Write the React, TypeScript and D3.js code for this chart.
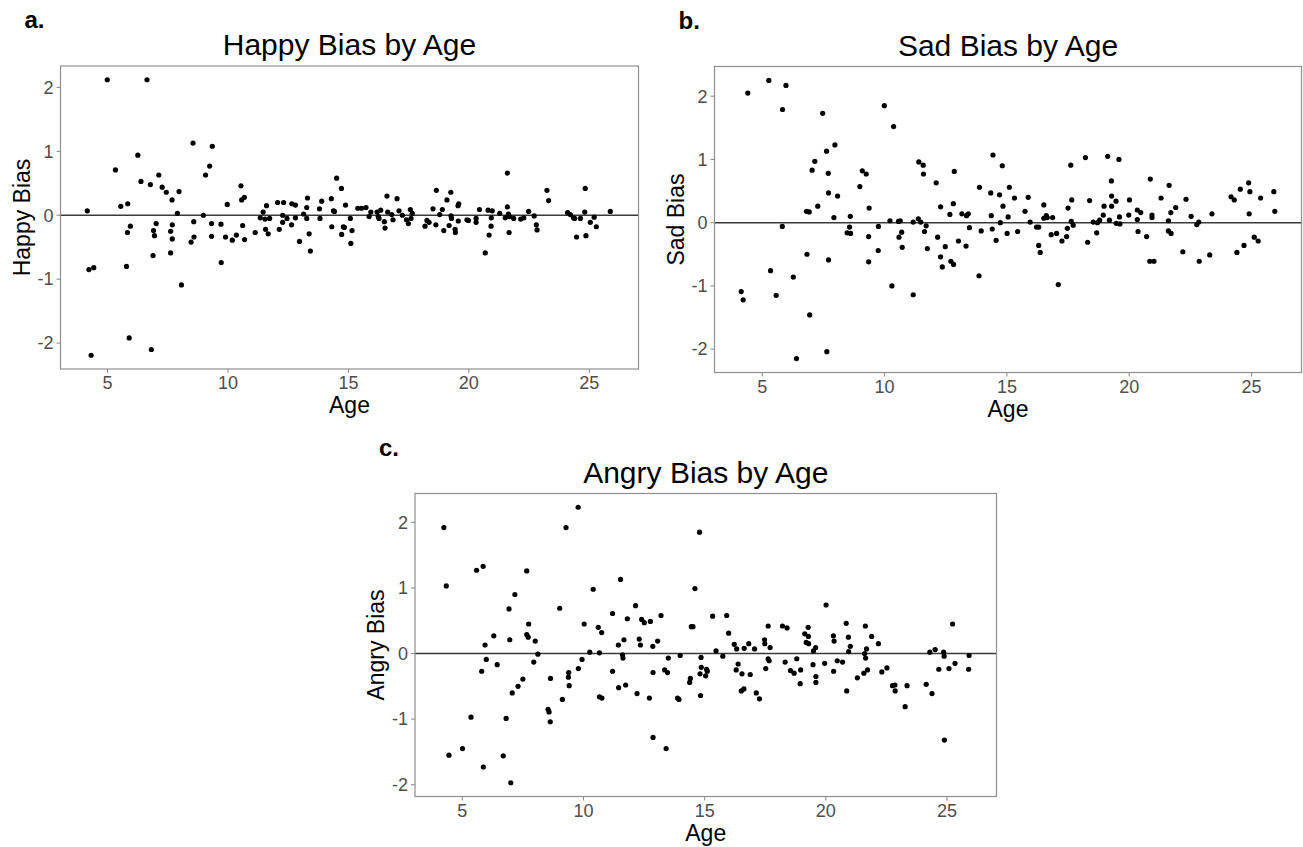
import React from "react";
import * as d3 from "d3";

// values
const happyAge = [
  4.16, 4.23, 4.43, 4.32, 4.99, 5.33, 5.55, 5.84, 5.83, 5.95, 5.79, 5.9, 6.26, 6.39, 6.64, 6.78, 6.82, 6.89, 6.91, 6.95,
  7.02, 7.13, 7.27, 7.44, 7.62, 7.62, 7.68, 7.69, 7.69, 7.9, 7.97, 8.07, 8.47, 8.55, 8.58, 8.59, 8.98, 9.07, 9.24, 9.35,
  9.32, 9.32, 9.71, 9.72, 9.9, 9.97, 10.18, 10.35, 10.54, 10.57, 10.68, 10.61, 10.69, 11.13, 11.34, 11.46, 11.54, 11.6,
  11.56, 11.67, 11.73, 12.06, 12.13, 12.27, 12.27, 12.31, 12.45, 12.65, 12.64, 12.8, 12.8, 12.97, 13.14, 13.27, 13.27,
  13.3, 13.37, 13.42, 13.8, 13.82, 13.89, 14.29, 14.31, 14.38, 14.42, 14.51, 14.71, 14.72, 14.79, 14.83, 14.88, 15.08,
  15.1, 15.15, 15.39, 15.55, 15.73, 15.86, 15.93, 16.19, 16.24, 16.27, 16.34, 16.49, 16.52, 16.6, 16.63, 16.8, 16.85,
  17.02, 17.1, 17.24, 17.41, 17.49, 17.57, 17.6, 17.65, 18.18, 18.26, 18.35, 18.51, 18.63, 18.65, 18.79, 18.9, 18.96,
  19.09, 19.18, 19.25, 19.26, 19.28, 19.43, 19.44, 19.55, 19.58, 19.56, 19.92, 19.98, 20.3, 20.3, 20.44, 20.68, 20.8,
  20.84, 20.92, 20.93, 20.97, 21.28, 21.51, 21.6, 21.6, 21.64, 21.67, 21.69, 21.86, 22.15, 22.28, 22.48, 22.71, 22.8,
  22.83, 23.24, 23.31, 24.1, 24.21, 24.34, 24.39, 24.47, 24.63, 24.81, 24.83, 24.86, 25.04, 25.2, 25.29, 25.87,
];
const happyBias = [
  0.07, -0.85, -0.82, -2.19, 2.12, 0.71, 0.14, 0.18, -0.27, -0.17, -0.8, -1.92, 0.94, 0.53, 2.12, 0.48, -2.1, -0.63, -0.24,
  -0.32, -0.13, 0.63, 0.44, 0.36, -0.25, -0.59, 0.24, -0.15, -0.37, 0.03, 0.37, -1.09, -0.42, 1.13, -0.1, -0.34, 0.0, 0.63,
  0.77, 1.08, -0.13, -0.33, -0.14, -0.74, -0.34, 0.17, -0.39, -0.31, 0.46, 0.24, 0.28, -0.16, -0.38, -0.27, -0.04, 0.05,
  -0.06, 0.15, -0.22, -0.29, -0.05, 0.2, -0.22, -0.11, 0.0, 0.2, -0.05, 0.18, -0.15, 0.16, -0.04, -0.41, 0.02, -0.05, 0.12,
  0.27, -0.29, -0.56, 0.1, -0.05, 0.22, 0.26, -0.18, 0.07, 0.06, 0.58, 0.42, -0.3, -0.18, -0.19, 0.16, -0.05, -0.44, -0.24,
  0.11, 0.11, 0.12, -0.02, 0.05, 0.05, -0.02, -0.05, 0.08, -0.1, -0.2, 0.3, 0.05, 0.01, -0.07, 0.26, 0.07, 0.0, -0.07,
  -0.13, 0.09, -0.05, 0.03, -0.17, -0.08, -0.11, 0.1, -0.15, 0.39, 0.01, 0.09, -0.24, 0.24, -0.16, 0.36, -0.01, -0.05,
  -0.22, -0.27, 0.15, 0.18, -0.09, -0.07, -0.08, -0.11, -0.05, 0.09, -0.59, 0.08, -0.31, -0.17, -0.04, 0.07, 0.03, -0.04,
  0.13, 0.66, 0.02, -0.27, -0.02, -0.05, -0.06, -0.04, 0.06, -0.01, -0.15, -0.23, 0.39, 0.23, 0.04, 0.01, -0.04, -0.05,
  -0.34, -0.05, 0.05, 0.42, -0.32, -0.11, -0.03, -0.18, 0.06,
];

const sadAge = [
  4.14, 4.22, 4.41, 5.27, 5.34, 5.57, 5.82, 5.83, 5.97, 6.27, 6.4, 6.81, 6.92, 6.83, 6.94, 7.04, 7.15, 7.27, 7.47, 7.63,
  7.64, 7.7, 7.71, 7.71, 7.93, 7.97, 8.08, 8.47, 8.57, 8.6, 8.61, 8.99, 9.09, 9.25, 9.35, 9.35, 9.37, 9.74, 9.75, 9.99,
  10.22, 10.3, 10.37, 10.57, 10.59, 10.64, 10.7, 10.72, 11.17, 11.17, 11.38, 11.4, 11.48, 11.58, 11.59, 11.63, 11.7,
  11.75, 12.11, 12.17, 12.29, 12.29, 12.36, 12.48, 12.67, 12.71, 12.81, 12.82, 12.85, 13.02, 13.16, 13.33, 13.35, 13.42,
  13.47, 13.86, 13.88, 13.95, 14.34, 14.36, 14.4, 14.43, 14.56, 14.7, 14.73, 14.81, 14.84, 15.01, 15.05, 15.1, 15.31,
  15.44, 15.74, 15.87, 15.95, 16.21, 16.3, 16.3, 16.36, 16.51, 16.51, 16.61, 16.65, 16.81, 16.87, 17.03, 17.1, 17.25,
  17.44, 17.47, 17.5, 17.61, 17.63, 17.65, 17.71, 18.21, 18.3, 18.38, 18.53, 18.67, 18.7, 18.79, 18.94, 18.97, 19.12,
  19.19, 19.27, 19.28, 19.28, 19.46, 19.47, 19.58, 19.6, 19.62, 19.98, 20.01, 20.33, 20.33, 20.36, 20.47, 20.71, 20.84,
  20.86, 20.93, 20.93, 21.01, 21.3, 21.6, 21.63, 21.6, 21.7, 21.71, 21.9, 22.19, 22.32, 22.53, 22.76, 22.84, 22.86,
  23.29, 23.38, 24.16, 24.29, 24.4, 24.54, 24.69, 24.88, 24.9, 24.93, 25.11, 25.27, 25.37, 25.91, 25.95,
];
const sadBias = [
  -1.09, -1.22, 2.05, 2.25, -0.76, -1.15, -0.06, 1.79, 2.17, -0.86, -2.15, 0.18, 0.17, -0.5, -1.46, 0.83, 0.97, 0.26, 1.73,
  1.13, -2.04, 0.78, 0.47, -0.59, 0.08, 1.23, 0.42, -0.16, -0.07, 0.1, -0.17, 0.57, 0.82, 0.77, -0.22, -0.62, 0.23, -0.44,
  -0.06, 1.85, 0.03, -1.0, 1.52, 0.02, -0.23, 0.03, -0.15, -0.39, 0.01, -1.14, 0.06, 0.96, 0.01, 0.91, 0.77, -0.14, -0.05,
  -0.41, 0.63, -0.23, 0.25, -0.54, -0.7, -0.38, 0.13, -0.61, 0.3, -0.66, 0.81, -0.29, 0.14, -0.37, 0.11, 0.14, -0.08,
  -0.84, 0.56, -0.13, 0.47, 0.11, -0.1, 1.07, -0.28, 0.44, 0.0, 0.9, 0.26, -0.17, 0.09, 0.56, 0.39, -0.14, 0.18, 0.4, 0.01,
  -0.07, -0.07, -0.36, -0.47, 0.28, 0.07, 0.11, 0.08, -0.19, 0.08, -0.17, -0.98, -0.29, -0.22, -0.09, 0.23, 0.91, 0.02,
  0.36, -0.04, 1.03, -0.31, 0.35, 0.01, -0.16, 0.0, 0.04, 0.12, 0.26, 1.05, 0.04, 0.66, 0.42, 0.26, 0.34, -0.01, 1.0, 0.09,
  -0.02, 0.12, 0.36, 0.2, 0.05, -0.14, 0.16, -0.22, -0.61, 0.69, 0.12, 0.08, -0.61, 0.39, 0.03, 0.59, -0.13, 0.16, -0.17,
  0.24, -0.46, 0.37, 0.1, -0.03, 0.01, -0.61, -0.51, 0.14, 0.41, 0.36, -0.47, 0.53, -0.36, 0.63, 0.14, 0.49, -0.23, -0.29,
  0.39, 0.49, 0.18,
];

const angryAge = [
  4.24, 4.34, 4.45, 5.01, 5.36, 5.59, 5.86, 5.8, 5.87, 5.94, 5.99, 6.3, 6.44, 6.69, 6.81, 6.93, 6.96, 7.0, 7.06, 7.17, 7.3,
  7.5, 7.66, 7.66, 7.72, 7.74, 7.95, 8.01, 8.12, 8.54, 8.58, 8.63, 8.64, 9.02, 9.13, 9.28, 9.39, 9.38, 9.41, 9.78, 9.79,
  9.94, 10.03, 10.26, 10.4, 10.61, 10.66, 10.66, 10.75, 10.76, 11.2, 11.2, 11.44, 11.45, 11.53, 11.61, 11.63, 11.67,
  11.74, 11.81, 12.15, 12.21, 12.3, 12.35, 12.4, 12.51, 12.72, 12.76, 12.86, 12.87, 12.87, 13.06, 13.2, 13.35, 13.41,
  13.47, 13.5, 13.88, 13.94, 13.99, 14.38, 14.41, 14.45, 14.52, 14.6, 14.79, 14.81, 14.83, 14.85, 14.86, 15.04, 15.08,
  15.11, 15.33, 15.47, 15.75, 15.91, 15.99, 16.22, 16.32, 16.3, 16.38, 16.54, 16.51, 16.62, 16.63, 16.82, 16.88, 17.06,
  17.13, 17.26, 17.47, 17.48, 17.52, 17.62, 17.62, 17.66, 17.7, 18.21, 18.32, 18.4, 18.54, 18.69, 18.8, 18.94, 18.96,
  19.13, 19.27, 19.28, 19.19, 19.29, 19.47, 19.49, 19.58, 19.59, 19.59, 19.95, 20.01, 20.31, 20.34, 20.32, 20.47, 20.69,
  20.84, 20.86, 20.93, 20.94, 21.01, 21.3, 21.57, 21.6, 21.63, 21.64, 21.68, 21.72, 21.89, 22.17, 22.31, 22.52, 22.75,
  22.85, 22.86, 23.27, 23.35, 24.14, 24.29, 24.38, 24.51, 24.66, 24.86, 24.88, 24.89, 25.08, 25.23, 25.33, 25.91, 25.89,
];
const angryBias = [
  1.92, 1.03, -1.55, -1.45, -0.97, 1.27, 1.33, -0.27, -1.73, 0.13, -0.09, 0.27, -0.17, -1.56, -0.99, 0.68, 0.21, -1.97, -0.6,
  0.9, -0.5, -0.39, 1.26, 0.29, 0.25, 0.45, -0.13, 0.19, -0.01, -0.85, -0.89, -1.04, -0.38, 0.69, -0.7, 1.92, -0.29, -0.36,
  -0.49, 2.23, -0.23, -0.09, 0.45, 0.02, 0.98, 0.4, 0.01, -0.66, 0.32, -0.68, 0.61, -0.27, 0.13, -0.52, 1.13, -0.02, -0.07,
  0.21, -0.48, 0.53, 0.73, -0.61, 0.22, 0.13, 0.52, 0.47, -0.68, 0.49, 0.11, -0.29, -1.28, 0.19, 0.58, -0.25, -1.45, -0.29,
  -0.07, -0.68, -0.7, -0.03, -0.44, -0.38, 0.41, 0.41, 0.99, 1.85, -0.31, -0.64, -0.06, -0.21, -0.34, -0.24, -0.27, 0.57,
  0.04, -0.04, 0.58, 0.31, 0.14, 0.07, -0.25, -0.16, -0.31, -0.57, -0.54, 0.08, 0.15, -0.32, 0.07, -0.6, -0.69, 0.21, 0.15,
  -0.23, 0.42, -0.08, -0.11, 0.09, 0.42, -0.13, 0.39, -0.26, -0.3, -0.08, -0.46, -0.25, 0.3, 0.4, 0.26, 0.17, 0.15, -0.17,
  0.04, 0.09, -0.35, -0.44, -0.15, 0.74, 0.27, 0.19, -0.27, -0.11, -0.13, 0.46, -0.57, 0.25, 0.03, 0.11, -0.37, -0.3, 0.0,
  0.42, -0.07, 0.07, -0.25, 0.26, 0.15, -0.28, -0.22, -0.49, -0.48, -0.57, -0.81, -0.49, -0.47, 0.02, -0.61, 0.06, -0.24,
  0.02, -0.04, -1.32, -0.23, 0.45, -0.15, -0.03, -0.24,
];

const xTicks = [5, 10, 15, 20, 25];
const yTicks = [-2, -1, 0, 1, 2];

const font = "'Liberation Sans', Arial, Helvetica, sans-serif";

// ggplot-style 5% expansion of the data range
const expand = (vals: number[]): [number, number] => {
  const [lo, hi] = d3.extent(vals) as [number, number];
  const pad = (hi - lo) * 0.05;
  return [lo - pad, hi + pad];
};

const xDomain = expand([...happyAge, ...sadAge, ...angryAge]);

type PanelProps = {
  tag: string;
  title: string;
  yTitle: string;
  ages: number[];
  bias: number[];
  x0: number;
  x1: number;
  y0: number;
  y1: number;
};

const Panel = ({ tag, title, yTitle, ages, bias, x0, x1, y0, y1 }: PanelProps) => {
  const x = d3.scaleLinear().domain(xDomain).range([x0, x1]);
  const y = d3.scaleLinear().domain(expand(bias)).range([y1, y0]);
  const cx = (x0 + x1) / 2;
  const cy = (y0 + y1) / 2;
  const grey = "#8f8f8f";

  return (
    <g>
      <text x={x0 - 36} y={y0 - 38} fontFamily={font} fontSize={24} fontWeight="bold" fill="#000">
        {tag}
      </text>
      <text x={cx} y={y0 - 11} textAnchor="middle" fontFamily={font} fontSize={30} fill="#000">
        {title}
      </text>

      <line x1={x0} x2={x1} y1={y(0)} y2={y(0)} stroke="#3a3a3a" strokeWidth={1.5} />

      {ages.map((a, i) => (
        <circle key={i} cx={x(a)} cy={y(bias[i])} r={2.6} fill="#000" />
      ))}

      <rect x={x0} y={y0} width={x1 - x0} height={y1 - y0} fill="none" stroke={grey} strokeWidth={1.2} />

      {xTicks.map((t) => (
        <g key={"x" + t}>
          <line x1={x(t)} x2={x(t)} y1={y1} y2={y1 + 4} stroke={grey} strokeWidth={1.1} />
          <text x={x(t)} y={y1 + 20} textAnchor="middle" fontFamily={font} fontSize={18} fill="#4d4d4d">
            {t}
          </text>
        </g>
      ))}
      {yTicks.map((t) => (
        <g key={"y" + t}>
          <line x1={x0 - 4} x2={x0} y1={y(t)} y2={y(t)} stroke={grey} strokeWidth={1.1} />
          <text
            x={x0 - 7}
            y={y(t)}
            dy="0.35em"
            textAnchor="end"
            fontFamily={font}
            fontSize={18}
            fill="#4d4d4d"
          >
            {t}
          </text>
        </g>
      ))}

      <text x={cx} y={y1 + 44} textAnchor="middle" fontFamily={font} fontSize={23} fill="#000">
        Age
      </text>
      <text
        transform={`translate(${x0 - 31},${cy}) rotate(-90)`}
        textAnchor="middle"
        fontFamily={font}
        fontSize={23}
        fill="#000"
      >
        {yTitle}
      </text>
    </g>
  );
};

export default function App() {
  return (
    <svg
      width={1303}
      height={847}
      style={{ position: "absolute", left: 0, top: 0, display: "block", background: "#fff" }}
    >
      <Panel tag="a." title="Happy Bias by Age" yTitle="Happy Bias" ages={happyAge} bias={happyBias}
        x0={60.5} x1={638.5} y0={66} y1={369} />
      <Panel tag="b." title="Sad Bias by Age" yTitle="Sad Bias" ages={sadAge} bias={sadBias}
        x0={714.5} x1={1301.5} y0={66.5} y1={372.5} />
      <Panel tag="c." title="Angry Bias by Age" yTitle="Angry Bias" ages={angryAge} bias={angryBias}
        x0={415} x1={996.5} y0={493.5} y1={796.5} />
    </svg>
  );
}
